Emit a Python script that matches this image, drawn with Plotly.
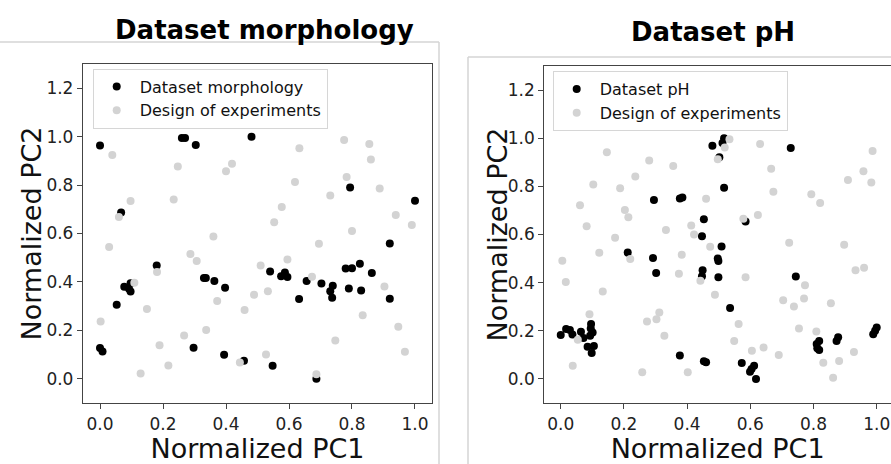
import plotly.graph_objects as go

# ---------------- data ----------------
morph_x = [0.0, 0.26, 0.27, 0.304, 0.481, 0.067, 0.794, 1.0, 0.18, 0.077, 0.097, 0.092, 0.097, 0.053,
           0.33, 0.336, 0.363, 0.397, 0.0, 0.008, 0.297, 0.394, 0.457, 0.92, 0.54, 0.587, 0.575, 0.595,
           0.656, 0.703, 0.739, 0.731, 0.737, 0.632, 0.78, 0.8, 0.825, 0.863, 0.79, 0.829, 0.92, 0.548, 0.687]
morph_y = [0.963, 0.994, 0.994, 0.966, 1.0, 0.687, 0.79, 0.735, 0.468, 0.38, 0.395, 0.372, 0.36, 0.306,
           0.416, 0.416, 0.404, 0.376, 0.127, 0.113, 0.128, 0.099, 0.074, 0.559, 0.443, 0.439, 0.423, 0.42,
           0.404, 0.394, 0.384, 0.362, 0.335, 0.329, 0.455, 0.457, 0.475, 0.437, 0.373, 0.365, 0.331, 0.054, 0.0]

doe1_x = [0.039, 0.247, 0.4, 0.419, 0.097, 0.234, 0.06, 0.36,
          0.633, 0.775, 0.855, 0.86, 0.619, 0.783, 0.888, 0.731, 0.577, 0.553, 0.939, 0.99, 0.8,
          0.029, 0.287, 0.307, 0.51, 0.181, 0.109, 0.372, 0.489, 0.459, 0.149, 0.002, 0.337, 0.267,
          0.189, 0.217, 0.129, 0.444,
          0.695, 0.595, 0.673, 0.533, 0.903, 0.834, 0.947, 0.747, 0.968, 0.527, 0.687]
doe1_y = [0.924, 0.877, 0.857, 0.888, 0.734, 0.74, 0.668, 0.588,
          0.952, 0.986, 0.97, 0.906, 0.813, 0.833, 0.786, 0.757, 0.709, 0.646, 0.676, 0.635, 0.61,
          0.544, 0.515, 0.486, 0.468, 0.441, 0.397, 0.321, 0.347, 0.284, 0.288, 0.237, 0.201, 0.179,
          0.138, 0.055, 0.022, 0.067,
          0.558, 0.493, 0.421, 0.361, 0.381, 0.262, 0.215, 0.158, 0.112, 0.1, 0.019]

ph_x = [0.295, 0.377, 0.385, 0.453, 0.447, 0.48, 0.517, 0.512, 0.502, 0.728, 0.517, 0.585,
        0.212, 0.292, 0.302, 0.449, 0.447,
        0.0, 0.017, 0.029, 0.037, 0.064, 0.072, 0.096, 0.101, 0.093, 0.085, 0.105, 0.098, 0.095,
        0.377, 0.453, 0.46,
        0.509, 0.497, 0.499, 0.499, 0.744, 0.536, 0.573, 0.612, 0.604, 0.599, 0.618,
        0.818, 0.81, 0.812, 0.818, 0.878, 0.873, 1.0, 0.995, 0.989]
ph_y = [0.743, 0.75, 0.754, 0.663, 0.593, 0.969, 1.0, 0.98, 0.921, 0.959, 0.794, 0.654,
        0.525, 0.502, 0.44, 0.452, 0.427,
        0.183, 0.207, 0.203, 0.185, 0.196, 0.17, 0.228, 0.193, 0.179, 0.134, 0.137, 0.108, 0.21,
        0.097, 0.073, 0.069,
        0.55, 0.5, 0.49, 0.422, 0.426, 0.295, 0.066, 0.055, 0.041, 0.03, 0.0,
        0.158, 0.145, 0.127, 0.12, 0.173, 0.158, 0.214, 0.2, 0.186]

doe2_x = [0.146, 0.28, 0.356, 0.103, 0.236, 0.188, 0.061, 0.203, 0.214, 0.082, 0.172, 0.333, 0.413, 0.422, 0.46,
          0.534, 0.519, 0.497, 0.631, 0.987, 0.666, 0.958, 0.909, 0.983, 0.673, 0.793, 0.821, 0.624, 0.578,
          0.005, 0.016, 0.122, 0.133, 0.22, 0.383, 0.374, 0.442, 0.091, 0.312, 0.273, 0.303, 0.328, 0.054,
          0.038, 0.258, 0.402, 0.473,
          0.723, 0.897, 0.933, 0.96, 0.585, 0.773, 0.488, 0.704, 0.738, 0.77, 0.855, 0.563, 0.754, 0.809,
          0.549, 0.642, 0.605, 0.69, 0.928, 0.831, 0.881, 0.862]
doe2_y = [0.942, 0.907, 0.885, 0.808, 0.841, 0.792, 0.721, 0.702, 0.672, 0.634, 0.586, 0.619, 0.637, 0.6, 0.748,
          0.996, 0.961, 0.913, 0.976, 0.947, 0.873, 0.863, 0.826, 0.816, 0.778, 0.767, 0.731, 0.681, 0.665,
          0.491, 0.403, 0.524, 0.363, 0.498, 0.516, 0.437, 0.408, 0.269, 0.276, 0.239, 0.248, 0.179, 0.163,
          0.055, 0.028, 0.028, 0.549,
          0.566, 0.557, 0.452, 0.462, 0.422, 0.389, 0.35, 0.327, 0.301, 0.334, 0.314, 0.228, 0.21, 0.197,
          0.158, 0.131, 0.117, 0.099, 0.112, 0.067, 0.074, 0.005]

tick_vals = [0.0, 0.2, 0.4, 0.6, 0.8, 1.0, 1.2]
tick_text = ["0.0", "0.2", "0.4", "0.6", "0.8", "1.0", "1.2"]

W, H = 891, 464
BLACK = "#000000"
GRAY = "#d3d3d3"
MS = 8

fig = go.Figure()
fig.add_trace(go.Scatter(x=morph_x, y=morph_y, mode="markers", name="Dataset morphology",
                         marker=dict(color=BLACK, size=MS), xaxis="x", yaxis="y", legend="legend"))
fig.add_trace(go.Scatter(x=doe1_x, y=doe1_y, mode="markers", name="Design of experiments",
                         marker=dict(color=GRAY, size=MS), xaxis="x", yaxis="y", legend="legend"))
fig.add_trace(go.Scatter(x=ph_x, y=ph_y, mode="markers", name="Dataset pH",
                         marker=dict(color=BLACK, size=MS), xaxis="x2", yaxis="y2", legend="legend2"))
fig.add_trace(go.Scatter(x=doe2_x, y=doe2_y, mode="markers", name="Design of experiments",
                         marker=dict(color=GRAY, size=MS), xaxis="x2", yaxis="y2", legend="legend2"))

tickfont = dict(family="DejaVu Sans", size=17, color="#222")
titlefont = dict(family="DejaVu Sans", size=27, color="#111")
LINE = "#444"

def xax(domain, rng, mirror):
    return dict(domain=domain, range=rng, tickvals=tick_vals[:6], ticktext=tick_text[:6],
                ticks="outside", ticklen=5, tickcolor=LINE, showline=True, linecolor=LINE, linewidth=1.3,
                mirror=mirror, showgrid=False, zeroline=False, tickfont=tickfont,
                title=dict(text="Normalized PC1", font=titlefont, standoff=9))

def yax(domain, anchor, mirror):
    return dict(domain=domain, range=[-0.1, 1.3], tickvals=tick_vals, ticktext=tick_text, anchor=anchor,
                ticks="outside", ticklen=5, tickcolor=LINE, showline=True, linecolor=LINE, linewidth=1.3,
                mirror=mirror, showgrid=False, zeroline=False, tickfont=tickfont)

legfont = dict(family="DejaVu Sans", size=16, color="#111")
fig.update_layout(
    width=W, height=H, margin=dict(l=0, r=0, t=0, b=0),
    paper_bgcolor="white", plot_bgcolor="white",
    xaxis=xax([83 / W, 432 / W], [-0.054, 1.054], True) | dict(anchor="y"),
    yaxis=yax([(H - 403) / H, (H - 64) / H], "x", True),
    xaxis2=xax([544.3 / W, 1.0], [-0.052, (891 - 560.7) / 316], True) | dict(anchor="y2"),
    yaxis2=yax([(H - 403) / H, (H - 66) / H], "x2", False),
    legend=dict(x=92.7 / W, y=1 - 68.5 / H, xanchor="left", yanchor="top",
                bgcolor="rgba(255,255,255,0.9)", bordercolor="#d6d6d6", borderwidth=1,
                font=legfont, itemwidth=36),
    legend2=dict(x=552.7 / W, y=1 - 71 / H, xanchor="left", yanchor="top",
                 bgcolor="rgba(255,255,255,0.9)", bordercolor="#d6d6d6", borderwidth=1,
                 font=legfont, itemwidth=36),
    showlegend=True,
)

# panel frames (light gray image borders)
fc = "#d4d4d4"
fig.add_shape(type="line", xref="paper", yref="paper", x0=0, x1=439 / W, y0=1 - 42 / H, y1=1 - 42 / H,
              line=dict(color=fc, width=1.5))
fig.add_shape(type="line", xref="paper", yref="paper", x0=439 / W, x1=439 / W, y0=0, y1=1 - 42 / H,
              line=dict(color=fc, width=1.5))
fig.add_shape(type="line", xref="paper", yref="paper", x0=468 / W, x1=1, y0=1 - 57 / H, y1=1 - 57 / H,
              line=dict(color=fc, width=1.5))
fig.add_shape(type="line", xref="paper", yref="paper", x0=468 / W, x1=468 / W, y0=0, y1=1 - 57 / H,
              line=dict(color=fc, width=1.5))

# y axis titles
fig.add_annotation(text="Normalized PC2", xref="paper", yref="paper", x=31 / W, y=1 - 233.5 / H,
                   xanchor="center", yanchor="middle", textangle=-90, showarrow=False, font=titlefont)
fig.add_annotation(text="Normalized PC2", xref="paper", yref="paper", x=497 / W, y=1 - 234.5 / H,
                   xanchor="center", yanchor="middle", textangle=-90, showarrow=False, font=titlefont)

# panel titles
fig.add_annotation(text="<b>Dataset morphology</b>", xref="paper", yref="paper", x=264 / W, y=1 - 30 / H,
                   xanchor="center", yanchor="middle", showarrow=False,
                   font=dict(family="DejaVu Sans", size=26, color="#000"))
fig.add_annotation(text="<b>Dataset pH</b>", xref="paper", yref="paper", x=712.5 / W, y=1 - 32 / H,
                   xanchor="center", yanchor="middle", showarrow=False,
                   font=dict(family="DejaVu Sans", size=26, color="#000"))

fig.write_html("out.html")
